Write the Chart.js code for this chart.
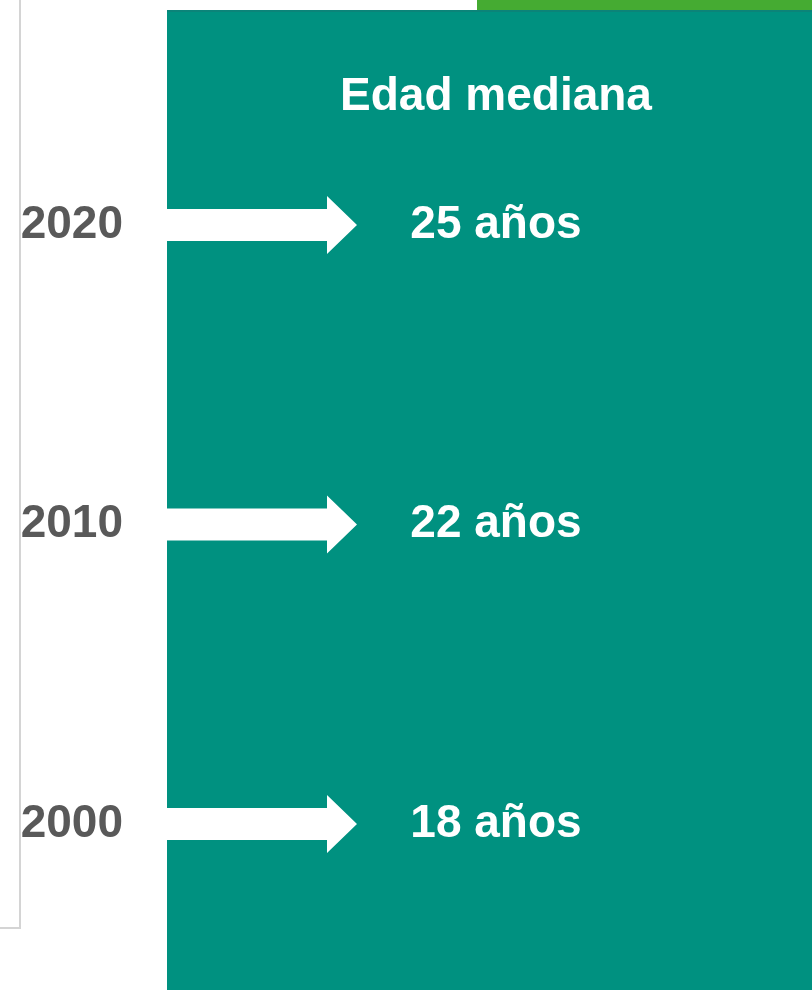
<!DOCTYPE html>
<html lang="es">

<head>
    <meta charset="UTF-8">
    <title>Edad mediana</title>
    <script src="https://cdn.jsdelivr.net/npm/chart.js@4.4.1/dist/chart.umd.min.js"></script>
    <style>
        html, body { margin: 0; padding: 0; background: #ffffff; }
        #chart { display: block; }
    </style>
</head>

<body>
    <canvas id="chart" width="812" height="990"></canvas>

    <script>
        // Datos
        const anios = ['2020', '2010', '2000'];
        const edadMediana = [25, 22, 18];
        const titulo = 'Edad mediana';
        const unidad = 'años';

        const FONT = "'Liberation Sans', Arial, sans-serif";
        const TEAL = '#009180';
        const GREEN = '#45ab32';

        // panel de fondo, marco gris y barra verde
        const fondo = {
            id: 'fondo',
            beforeDraw(chart) {
                const ctx = chart.ctx;
                const area = chart.chartArea;
                ctx.save();
                ctx.fillStyle = '#ffffff';
                ctx.fillRect(0, 0, chart.width, chart.height);

                // marco gris a la izquierda
                ctx.strokeStyle = '#d4d4d4';
                ctx.lineWidth = 2;
                ctx.beginPath();
                ctx.moveTo(20, 0);
                ctx.lineTo(20, 928);
                ctx.lineTo(0, 928);
                ctx.stroke();

                // panel verde azulado
                ctx.fillStyle = TEAL;
                ctx.fillRect(area.left, 10, chart.width - area.left, chart.height - 10);
                ctx.fillStyle = '#0b8479';
                ctx.fillRect(area.left, 10, chart.width - area.left, 2);

                // barra verde superior
                ctx.fillStyle = GREEN;
                ctx.fillRect(477, 0, chart.width - 477, 10);

                // titulo
                ctx.fillStyle = '#ffffff';
                ctx.font = 'bold 46px ' + FONT;
                ctx.textAlign = 'center';
                ctx.textBaseline = 'middle';
                ctx.fillText(titulo, 496, 97);
                ctx.restore();
            }
        };

        // flechas blancas y etiquetas "NN años"
        const flechas = {
            id: 'flechas',
            afterDatasetsDraw(chart) {
                const ctx = chart.ctx;
                const left = chart.chartArea.left;
                const meta = chart.getDatasetMeta(0);
                ctx.save();
                meta.data.forEach((pt, i) => {
                    const y = pt.y;
                    ctx.fillStyle = '#ffffff';
                    ctx.beginPath();
                    ctx.moveTo(left, y - 16);
                    ctx.lineTo(left + 160, y - 16);
                    ctx.lineTo(left + 160, y - 29);
                    ctx.lineTo(left + 190, y);
                    ctx.lineTo(left + 160, y + 29);
                    ctx.lineTo(left + 160, y + 16);
                    ctx.lineTo(left, y + 16);
                    ctx.closePath();
                    ctx.fill();

                    ctx.font = 'bold 46px ' + FONT;
                    ctx.textAlign = 'center';
                    ctx.textBaseline = 'middle';
                    ctx.fillText(edadMediana[i] + ' ' + unidad, 496, y);
                });
                ctx.restore();
            }
        };

        new Chart(document.getElementById('chart'), {
            type: 'line',
            data: {
                labels: anios,
                datasets: [{
                    label: titulo,
                    data: edadMediana,
                    showLine: false,
                    pointRadius: 0
                }]
            },
            options: {
                indexAxis: 'y',
                responsive: false,
                animation: false,
                layout: {
                    padding: { top: 225, bottom: 166, left: 0, right: 0 }
                },
                plugins: {
                    legend: { display: false },
                    tooltip: { enabled: false }
                },
                scales: {
                    x: {
                        display: false,
                        min: 0,
                        max: 30
                    },
                    y: {
                        type: 'category',
                        offset: false,
                        grid: { display: false, drawTicks: false },
                        border: { display: false },
                        ticks: {
                            color: '#595959',
                            padding: 44,
                            font: { family: FONT, size: 46, weight: 'bold' }
                        },
                        afterFit(scale) {
                            scale.width = 167;
                        }
                    }
                }
            },
            plugins: [fondo, flechas]
        });
    </script>
</body>

</html>
